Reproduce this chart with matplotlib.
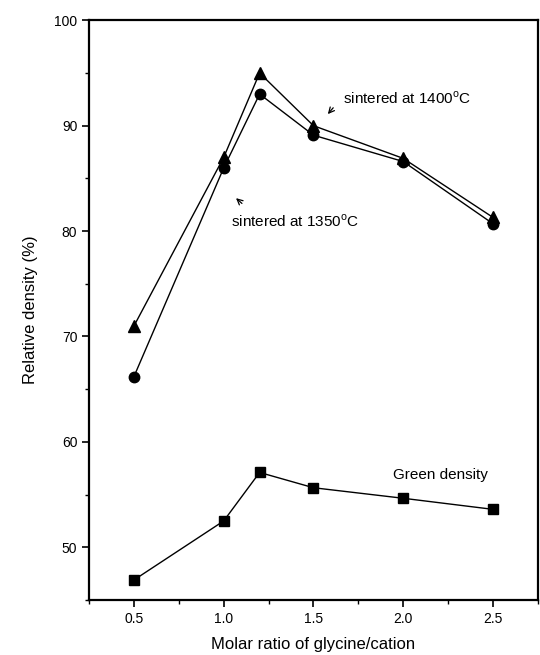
import matplotlib
matplotlib.use("Agg")
import matplotlib.pyplot as plt
from matplotlib.ticker import MultipleLocator

plt.rcParams["font.family"] = ["Liberation Sans", "DejaVu Sans"]
plt.rcParams["mathtext.fontset"] = "custom"
plt.rcParams["mathtext.rm"] = "Liberation Sans"

ratio = [0.5, 1.0, 1.2, 1.5, 2.0, 2.5]
sint_1400 = [71.0, 87.0, 95.0, 90.0, 86.9, 81.3]
sint_1350 = [66.2, 86.0, 93.0, 89.1, 86.6, 80.7]
green = [46.9, 52.5, 57.1, 55.65, 54.65, 53.6]

fig = plt.figure(figsize=(5.4, 6.55), dpi=100)
ax = fig.add_axes([0.165, 0.084, 0.831, 0.885])

ax.plot(ratio, sint_1400, color="black", linewidth=1.0, marker="^", markersize=8)
ax.plot(ratio, sint_1350, color="black", linewidth=1.0, marker="o", markersize=7.5)
ax.plot(ratio, green, color="black", linewidth=1.0, marker="s", markersize=6.5)

ax.text(1.665, 92.6, "sintered at 1400$^{\\mathrm{o}}$C", fontsize=11, va="center")
ax.annotate("", xy=(1.57, 90.9), xytext=(1.62, 91.9),
            arrowprops=dict(arrowstyle="->", color="black", lw=0.9))
ax.text(1.04, 80.9, "sintered at 1350$^{\\mathrm{o}}$C", fontsize=11, va="center")
ax.annotate("", xy=(1.057, 83.3), xytext=(1.113, 82.45),
            arrowprops=dict(arrowstyle="->", color="black", lw=0.9))
ax.text(1.944, 56.9, "Green density", fontsize=11, va="center")

ax.set_xlim(0.25, 2.75)
ax.set_ylim(45, 100)
ax.xaxis.set_major_locator(MultipleLocator(0.5))
ax.xaxis.set_minor_locator(MultipleLocator(0.25))
ax.yaxis.set_major_locator(MultipleLocator(10))
ax.yaxis.set_minor_locator(MultipleLocator(5))
ax.set_xticks([0.5, 1.0, 1.5, 2.0, 2.5])
ax.set_xticklabels(["0.5", "1.0", "1.5", "2.0", "2.5"])
ax.set_yticks([50, 60, 70, 80, 90, 100])

ax.tick_params(which="major", direction="out", length=5, width=1.2, labelsize=10)
ax.tick_params(which="minor", direction="out", length=3, width=1.0)
for s in ax.spines.values():
    s.set_linewidth(1.6)

ax.set_xlabel("Molar ratio of glycine/cation", fontsize=12, labelpad=8)
ax.set_ylabel("Relative density (%)", fontsize=12, labelpad=12)

fig.savefig("out.png", dpi=100)
